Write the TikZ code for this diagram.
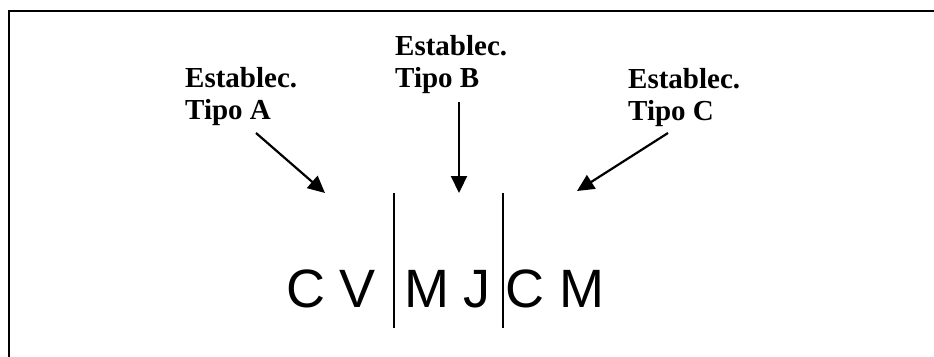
\documentclass[tikz,border=0pt]{standalone}
\usepackage{fontspec}
\setmainfont{Liberation Serif}
\newfontfamily\arialfont{Liberation Sans}
\usetikzlibrary{arrows.meta}
\tikzset{
  lbl/.style={font=\bfseries\fontsize{29}{32}\selectfont, anchor=base west, inner sep=0pt},
  letter/.style={font=\arialfont\fontsize{54}{60}\selectfont, anchor=base, inner sep=0pt},
  pointer/.style={line width=2.2pt, -{Triangle[length=17pt,width=16pt]}},
  divider/.style={line width=1.4pt},
  frame/.style={line width=2pt}
}
\begin{document}
\begin{tikzpicture}[x=1pt,y=-1pt]
\useasboundingbox (0,0) rectangle (934,356);
\clip (0,0) rectangle (934,356);
\fill[white] (0,0) rectangle (934,356);
% frame (only top and left edges visible)
\coordinate (f1) at (9,370);
\coordinate (f2) at (9,10.5);
\coordinate (f3) at (950,10.5);
\draw[frame] (f1) -- (f2) -- (f3);
% labels
\node[lbl] (a1) at (185,87) {Establec.};
\node[lbl] (a2) at (185,119) {Tipo A};
\node[lbl] (b1) at (395,55) {Establec.};
\node[lbl] (b2) at (395,87) {Tipo B};
\node[lbl] (c1) at (628,88) {Establec.};
\node[lbl] (c2) at (628,120) {Tipo C};
% letters
\node[letter] (l1) at (306,307) {C};
\node[letter] (l2) at (358,307) {V};
\node[letter] (l3) at (426.5,307) {M};
\node[letter] (l4) at (476.5,307) {J};
\node[letter] (l5) at (525,307) {C};
\node[letter] (l6) at (581.5,307) {M};
% dividers
\coordinate (d1t) at (394,193);
\coordinate (d1b) at (394,328);
\coordinate (d2t) at (503,193);
\coordinate (d2b) at (503,328);
\draw[divider] (d1t) -- (d1b);
\draw[divider] (d2t) -- (d2b);
% arrows
\coordinate (as) at (256,133);
\coordinate (ae) at (325,193);
\coordinate (bs) at (459,102);
\coordinate (be) at (459,193);
\coordinate (cs) at (668,133);
\coordinate (ce) at (577,191);
\draw[pointer] (as) -- (ae);
\draw[pointer] (bs) -- (be);
\draw[pointer] (cs) -- (ce);
\end{tikzpicture}
\end{document}
